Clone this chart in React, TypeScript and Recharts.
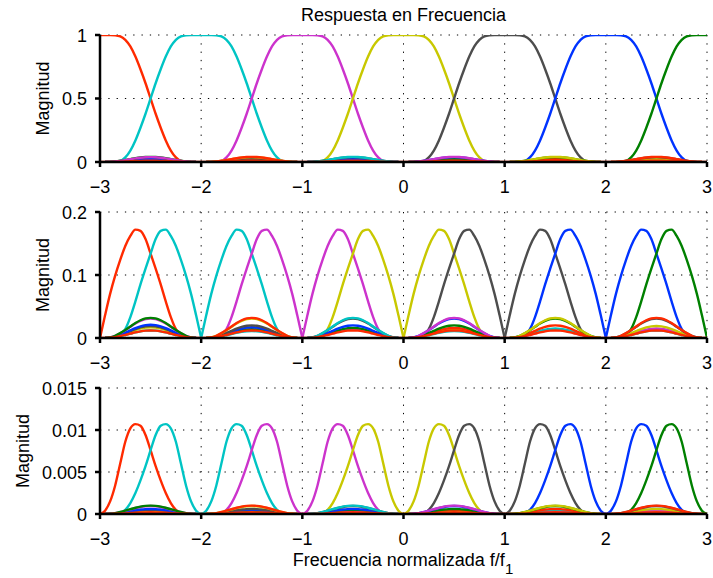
import { LineChart, Line, XAxis, YAxis, CartesianGrid } from 'recharts';

const FONT = '"Liberation Sans", Arial, Helvetica, sans-serif';

// channel centres on the normalised frequency axis
const CENTERS = [-3, -2, -1, 0, 1, 2, 3];
const COLORS = ['#ff2a00', '#00c4c4', '#cc33cc', '#c8c800', '#4d4d4d', '#0033ff', '#008000'];
const X_TICKS = [-3, -2, -1, 0, 1, 2, 3];

// distance from a channel centre where each lobe is sampled
const OFFSETS = [0, 0.05, 0.1, 0.15, 0.2, 0.25, 0.3, 0.35, 0.4, 0.45, 0.5, 0.55, 0.6, 0.65, 0.7, 0.75, 0.8, 0.85, 0.9];
const TOP_LOBE = [1, 1, 1, 0.998, 0.99, 0.962, 0.91, 0.83, 0.73, 0.62, 0.5, 0.38, 0.27, 0.17, 0.09, 0.036, 0.008, 0.001, 0];
const MID_LOBE = [0, 0.036, 0.07, 0.099, 0.124, 0.146, 0.162, 0.172, 0.17, 0.157, 0.134, 0.11, 0.085, 0.058, 0.033, 0.014, 0.004, 0.0005, 0];
const LOW_LOBE = [0, 0.0004, 0.0015, 0.0034, 0.006, 0.0086, 0.0102, 0.0107, 0.0105, 0.0094, 0.0076, 0.0057, 0.004, 0.0025, 0.0013, 0.0005, 0.00015, 0.00002, 0];

// small leakage bumps half way between channels
const BUMP_CENTERS = [-2.5, -1.5, -0.5, 0.5, 1.5, 2.5];
const BUMP_OFFSETS = [0, 0.05, 0.1, 0.15, 0.2, 0.25, 0.3, 0.35, 0.4, 0.45];
const BUMP_SHAPE = [1, 0.97, 0.88, 0.74, 0.57, 0.4, 0.24, 0.11, 0.03, 0];

// [channel, peak] for every bump position, in drawing order
const TOP_BUMPS: [number, number][][] = [
  [[3, 0.016], [4, 0.02], [5, 0.022], [6, 0.04], [2, 0.038]],
  [[6, 0.015], [5, 0.018], [4, 0.022], [3, 0.038], [0, 0.04]],
  [[2, 0.014], [6, 0.018], [5, 0.022], [4, 0.038], [1, 0.04]],
  [[3, 0.014], [0, 0.018], [6, 0.022], [5, 0.038], [2, 0.04]],
  [[2, 0.013], [1, 0.016], [0, 0.022], [6, 0.038], [3, 0.04]],
  [[2, 0.016], [3, 0.022], [4, 0.038], [0, 0.04]],
];
const MID_BUMPS: [number, number][][] = [
  [[1, 0.012], [3, 0.017], [4, 0.019], [5, 0.021], [2, 0.031], [6, 0.032]],
  [[1, 0.011], [6, 0.014], [5, 0.017], [4, 0.02], [3, 0.031], [0, 0.032]],
  [[2, 0.014], [6, 0.016], [5, 0.02], [4, 0.031], [1, 0.032]],
  [[1, 0.011], [3, 0.014], [0, 0.016], [6, 0.02], [5, 0.031], [2, 0.032]],
  [[2, 0.013], [1, 0.015], [0, 0.02], [6, 0.031], [3, 0.032]],
  [[1, 0.012], [2, 0.015], [3, 0.019], [4, 0.031], [0, 0.032]],
];
const LOW_BUMPS: [number, number][][] = [
  [[1, 0.0003], [3, 0.0004], [4, 0.0005], [5, 0.0006], [2, 0.00095], [6, 0.001]],
  [[1, 0.0003], [6, 0.0004], [5, 0.0005], [4, 0.0006], [3, 0.00095], [0, 0.001]],
  [[2, 0.0004], [6, 0.0005], [5, 0.0006], [4, 0.00095], [1, 0.001]],
  [[1, 0.0003], [3, 0.0004], [0, 0.0005], [6, 0.0006], [5, 0.00095], [2, 0.001]],
  [[2, 0.0004], [1, 0.0005], [0, 0.0006], [6, 0.00095], [3, 0.001]],
  [[1, 0.0003], [2, 0.0004], [3, 0.0006], [4, 0.00095], [0, 0.001]],
];
// red trace lying along the floor of each panel
const TOP_FLOOR = [0.01, 0.01, 0.01, 0.01, 0.01, 0.01];
const MID_FLOOR = [0.012, 0.012, 0.012, 0.012, 0.012, 0.012];
const LOW_FLOOR = [0.0002, 0.0002, 0.0002, 0.0002, 0.0002, 0.0002];

const TOP_Y_TICKS = [0, 0.5, 1];
const MID_Y_TICKS = [0, 0.1, 0.2];
const LOW_Y_TICKS = [0, 0.005, 0.01, 0.015];

type Pt = { x: number; y: number };
type Series = { key: string; color: string; data: Pt[] };

const r = (v: number) => Math.round(v * 10000) / 10000;
const inDomain = (p: Pt) => p.x >= -3 && p.x <= 3;

function side(center: number, values: number[], dir: number): Pt[] {
  return OFFSETS.map((o, i) => ({ x: r(center + dir * o), y: values[i] }))
    .filter(inDomain)
    .sort((a, b) => a.x - b.x);
}

function bump(center: number, peak: number): Pt[] {
  const left = BUMP_OFFSETS.slice(1).map((o, i) => ({ x: r(center - o), y: peak * BUMP_SHAPE[i + 1] })).reverse();
  const right = BUMP_OFFSETS.map((o, i) => ({ x: r(center + o), y: peak * BUMP_SHAPE[i] }));
  return [...left, ...right];
}

function buildSeries(lobe: number[], split: boolean, bumps: [number, number][][], floor: number[]): Series[] {
  const out: Series[] = [];
  CENTERS.forEach((c, ci) => {
    const left = side(c, lobe, -1);
    const right = side(c, lobe, 1);
    if (split) {
      if (left.length > 1) out.push({ key: `l${ci}`, color: COLORS[ci], data: left });
      if (right.length > 1) out.push({ key: `r${ci}`, color: COLORS[ci], data: right });
    } else {
      out.push({ key: `m${ci}`, color: COLORS[ci], data: [...left, ...right.filter((p) => p.x !== c)] });
    }
  });
  bumps.forEach((cluster, bi) => {
    cluster.forEach(([ch, peak], k) => {
      out.push({ key: `b${bi}-${k}`, color: COLORS[ch], data: bump(BUMP_CENTERS[bi], peak) });
    });
  });
  const floorPts: Pt[] = X_TICKS.map((x) => ({ x, y: 0 }));
  BUMP_CENTERS.forEach((b, bi) => floorPts.push(...bump(b, floor[bi])));
  floorPts.sort((a, b) => a.x - b.x);
  out.push({ key: 'floor', color: COLORS[0], data: floorPts });
  return out;
}

const fmtX = (v: number) => (v < 0 ? `\u2212${Math.abs(v)}` : `${v}`);

const textStyle = { fill: '#000', fontSize: 18, fontFamily: FONT };
const axisStroke = { stroke: '#000', strokeWidth: 2.5 };

// tick labels drawn as plain svg text so the font size sticks
const XTick = (props: any) => (
  <text x={props.x} y={props.y} dy={13} textAnchor="middle" {...textStyle}>
    {fmtX(props.payload.value)}
  </text>
);
const YTick = (props: any) => (
  <text x={props.x} y={props.y} dy={6.5} textAnchor="end" {...textStyle}>
    {String(props.payload.value)}
  </text>
);

function Panel({ top, plotH, yTicks, series }: { top: number; plotH: number; yTicks: number[]; series: Series[] }) {
  const yMax = yTicks[yTicks.length - 1];
  return (
    <div style={{ position: 'absolute', left: 0, top }}>
      <LineChart width={713} height={35 + plotH + 40} margin={{ top: 35, right: 6, bottom: 0, left: 0 }}>
        <CartesianGrid xAxisId="bottom" yAxisId="left" stroke="#000" strokeWidth={1} strokeDasharray="1.3 7" />
        <XAxis
          xAxisId="bottom"
          type="number"
          dataKey="x"
          domain={[-3, 3]}
          ticks={X_TICKS}
          allowDataOverflow
          tick={<XTick />}
          tickLine={axisStroke}
          axisLine={axisStroke}
          tickSize={5}
          tickMargin={13}
          height={40}
        />
        <XAxis
          xAxisId="top"
          orientation="top"
          type="number"
          dataKey="x"
          domain={[-3, 3]}
          ticks={X_TICKS}
          allowDataOverflow
          tick={false}
          tickLine={axisStroke}
          axisLine={axisStroke}
          tickSize={5}
          height={0}
        />
        <YAxis
          yAxisId="left"
          type="number"
          domain={[0, yMax]}
          ticks={yTicks}
          allowDataOverflow
          tick={<YTick />}
          tickLine={axisStroke}
          axisLine={axisStroke}
          tickSize={5}
          tickMargin={8}
          width={100}
        />
        <YAxis
          yAxisId="right"
          orientation="right"
          type="number"
          domain={[0, yMax]}
          ticks={yTicks}
          allowDataOverflow
          tick={false}
          tickLine={axisStroke}
          axisLine={axisStroke}
          tickSize={5}
          width={0}
        />
        {series.map((s) => (
          <Line
            key={s.key}
            xAxisId="bottom"
            yAxisId="left"
            data={s.data}
            dataKey="y"
            type="monotone"
            stroke={s.color}
            strokeWidth={2.4}
            dot={false}
            activeDot={false}
            isAnimationActive={false}
          />
        ))}
      </LineChart>
    </div>
  );
}

export default function App() {
  const topSeries = buildSeries(TOP_LOBE, false, TOP_BUMPS, TOP_FLOOR);
  const midSeries = buildSeries(MID_LOBE, true, MID_BUMPS, MID_FLOOR);
  const lowSeries = buildSeries(LOW_LOBE, true, LOW_BUMPS, LOW_FLOOR);

  return (
    <div style={{ position: 'absolute', left: 0, top: 0, width: 713, height: 578, background: '#fff' }}>
      <Panel top={0} plotH={127} yTicks={TOP_Y_TICKS} series={topSeries} />
      <Panel top={177} plotH={126} yTicks={MID_Y_TICKS} series={midSeries} />
      <Panel top={353} plotH={126} yTicks={LOW_Y_TICKS} series={lowSeries} />
      <svg width={713} height={578} style={{ position: 'absolute', left: 0, top: 0, pointerEvents: 'none' }}>
        <text x={403.5} y={21} textAnchor="middle" {...textStyle}>Respuesta en Frecuencia</text>
        <text x={48.5} y={98.5} textAnchor="middle" transform="rotate(-90 48.5 98.5)" {...textStyle}>Magnitud</text>
        <text x={48.5} y={275} textAnchor="middle" transform="rotate(-90 48.5 275)" {...textStyle}>Magnitud</text>
        <text x={29} y={451} textAnchor="middle" transform="rotate(-90 29 451)" {...textStyle}>Magnitud</text>
        <text x={403} y={566} textAnchor="middle" {...textStyle}>
          Frecuencia normalizada f/f<tspan dy={8} fontSize={15}>1</tspan>
        </text>
      </svg>
    </div>
  );
}
